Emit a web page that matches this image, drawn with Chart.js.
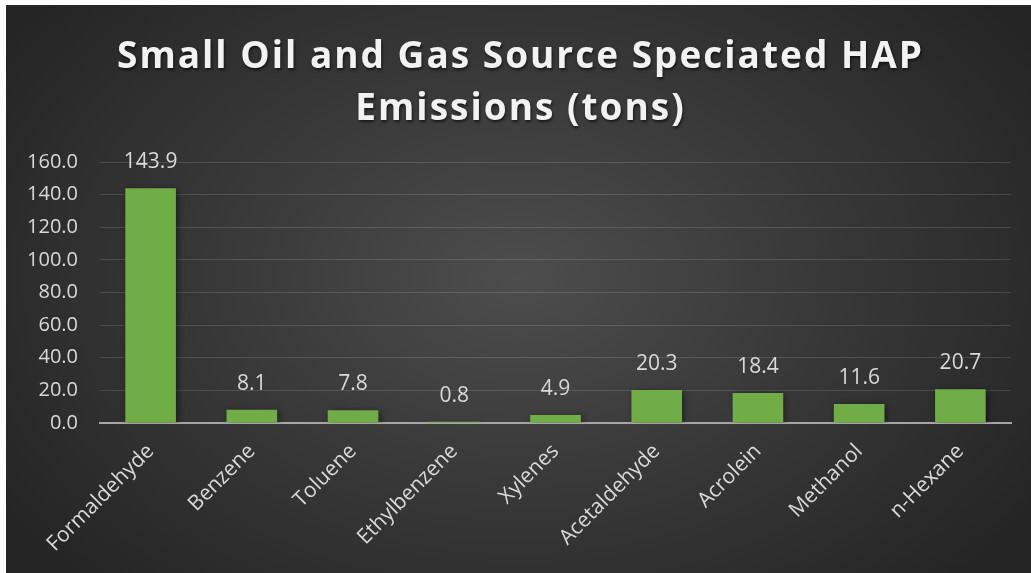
<!DOCTYPE html>
<html>
<head>
<meta charset="utf-8">
<script src="https://cdn.jsdelivr.net/npm/chart.js@4.4.1/dist/chart.umd.min.js"></script>
<style>
  html, body { margin: 0; padding: 0; background: #fff; overflow: hidden; }
  #box {
    position: absolute; left: 6px; top: 5px; width: 1025px; height: 568px;
    background: radial-gradient(ellipse 60% 75% at 50% 48%, #4d4d4d 0%, #3a3a3a 45%, #252525 100%);
  }
</style>
</head>
<body>
<div id="box"><canvas id="hapChart"></canvas></div>
<script>
// HAP species and tons emitted
let pollutants = ['Formaldehyde', 'Benzene', 'Toluene', 'Ethylbenzene', 'Xylenes', 'Acetaldehyde', 'Acrolein', 'Methanol', 'n-Hexane'];
let tons = [143.9, 8.1, 7.8, 0.8, 4.9, 20.3, 18.4, 11.6, 20.7];
let titleLines = ['Small Oil and Gas Source Speciated HAP', 'Emissions (tons)'];

let labelColor = '#d9d9d9';
let fontFamily = "'Open Sans', sans-serif";

// title drawn by hand so it can get letter spacing + shadow
const titlePlugin = {
    id: 'spacedTitle',
    afterDraw(chart) {
        let ctx = chart.ctx;
        ctx.save();
        ctx.font = "bold 37px " + fontFamily;
        ctx.letterSpacing = '2px';
        ctx.fillStyle = '#f2f2f2';
        ctx.textAlign = 'center';
        ctx.textBaseline = 'alphabetic';
        ctx.shadowColor = 'rgba(0,0,0,0.6)';
        ctx.shadowBlur = 3;
        ctx.shadowOffsetX = 1;
        ctx.shadowOffsetY = 2;
        let cx = chart.width / 2 + 2;
        ctx.fillText(titleLines[0], cx, 63);
        ctx.fillText(titleLines[1], cx, 115);
        ctx.restore();
    }
};

// soft shadow behind the bars
const barShadow = {
    id: 'barShadow',
    beforeDatasetsDraw(chart) {
        let ctx = chart.ctx;
        ctx.save();
        ctx.shadowColor = 'rgba(0,0,0,0.45)';
        ctx.shadowBlur = 6;
        ctx.shadowOffsetX = 2;
        ctx.shadowOffsetY = 1;
    },
    afterDatasetsDraw(chart) {
        chart.ctx.restore();
    }
};

// value printed above each bar
const valueLabels = {
    id: 'valueLabels',
    afterDatasetsDraw(chart) {
        let ctx = chart.ctx;
        let meta = chart.getDatasetMeta(0);
        ctx.save();
        ctx.font = "21px " + fontFamily;
        ctx.fillStyle = labelColor;
        ctx.textAlign = 'center';
        ctx.textBaseline = 'middle';
        meta.data.forEach((bar, i) => {
            ctx.fillText(tons[i].toFixed(1), bar.x, bar.y - 26);
        });
        ctx.restore();
    }
};

new Chart(document.getElementById('hapChart'), {
    type: 'bar',
    data: {
        labels: pollutants,
        datasets: [{
            data: tons,
            backgroundColor: '#70ad47',
            borderWidth: 0,
            categoryPercentage: 1,
            barPercentage: 0.5
        }]
    },
    options: {
        responsive: true,
        maintainAspectRatio: false,
        animation: false,
        layout: { padding: { top: 157, right: 20, left: 0, bottom: 0 } },
        plugins: {
            legend: { display: false },
            tooltip: { enabled: false },
            title: { display: false }
        },
        scales: {
            x: {
                afterFit(scale) { scale.height = 150; },
                grid: { display: false, drawTicks: false },
                border: { display: true, color: '#a6a6a6', width: 2 },
                ticks: {
                    color: labelColor,
                    font: { family: fontFamily, size: 21 },
                    maxRotation: 45,
                    minRotation: 45,
                    padding: 16,
                    autoSkip: false
                }
            },
            y: {
                min: 0,
                max: 160,
                afterFit(scale) { scale.width = 94; },
                grid: { color: 'rgba(255,255,255,0.13)', lineWidth: 1, drawTicks: false },
                border: { display: false },
                ticks: {
                    stepSize: 20,
                    color: labelColor,
                    font: { family: fontFamily, size: 20 },
                    padding: 22,
                    callback: v => v.toFixed(1)
                }
            }
        }
    },
    plugins: [barShadow, valueLabels, titlePlugin]
});
</script>
</body>
</html>
